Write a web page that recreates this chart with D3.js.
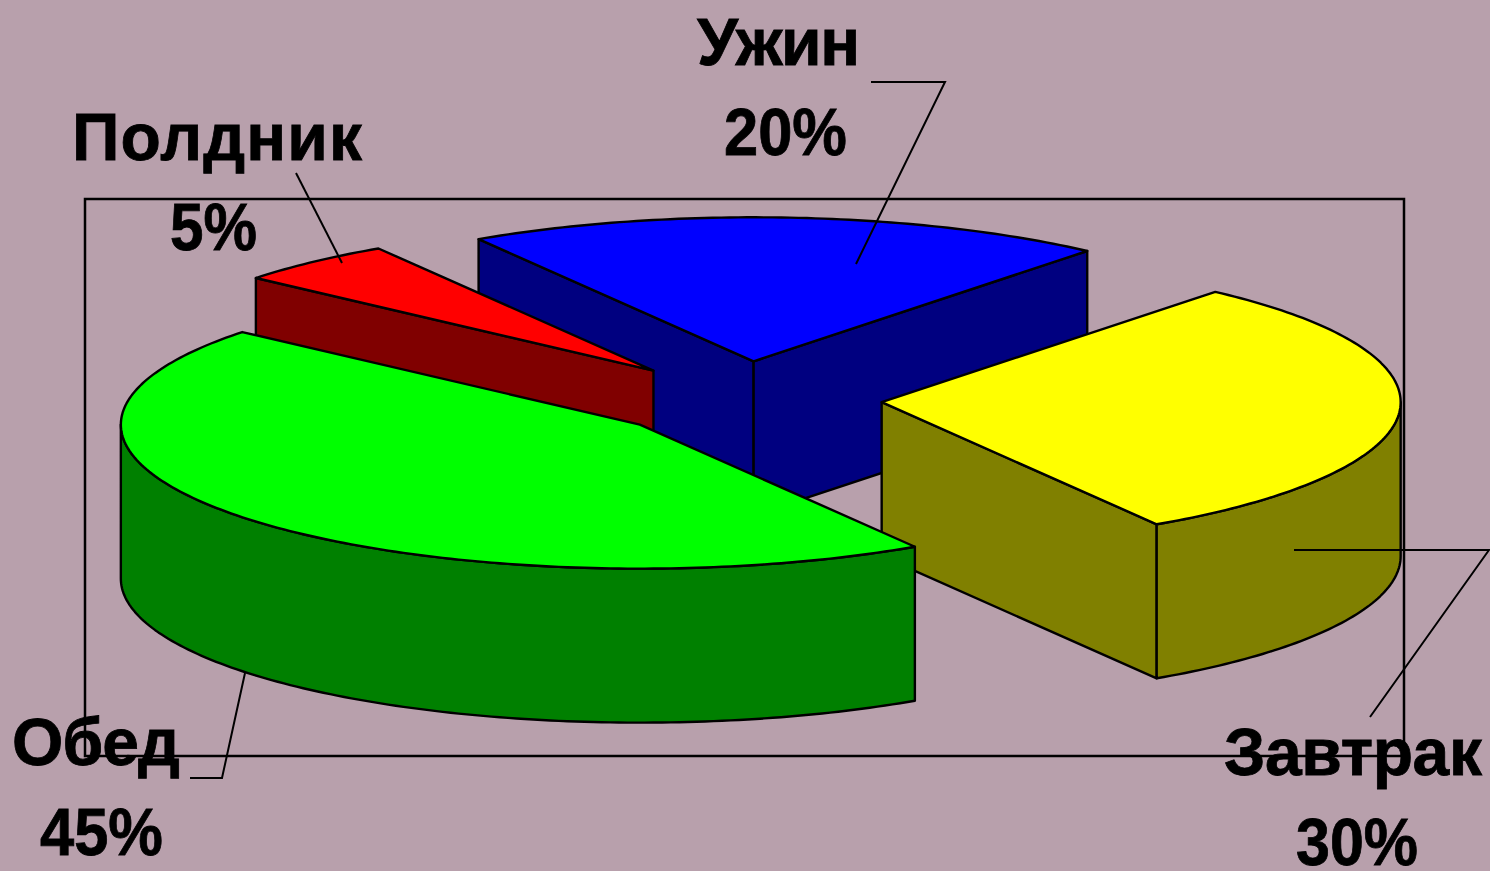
<!doctype html>
<html>
<head>
    <meta charset="UTF-8">
    <title>Режим питания</title>
    <script src="https://d3js.org/d3.v7.min.js"></script>
    <style>
        body { margin: 0; background: #b8a0ac; }
        svg { display: block; }
        text { font-family: "Liberation Sans", Arial, sans-serif; font-weight: bold; fill: #000; stroke: #000; stroke-width: 0.8px; }
    </style>
</head>
<body>
    <svg width="1490" height="871" id="chart"></svg>
<script>
var categories = ["Завтрак", "Обед", "Полдник", "Ужин"];
var shares = [30, 45, 5, 20];
var topColors = ["#ffff00", "#00ff00", "#ff0000", "#0000ff"];
var sideColors = ["#808000", "#008000", "#800000", "#000080"];

// label layout: name left x, name width, name baseline, percent left x, percent width, percent baseline
var labelPos = [
    [1224, 258, 775, 1296, 122, 865],
    [12, 168, 765, 40, 123, 855],
    [72, 290, 160, 170, 87, 250],
    [697, 163, 65, 724, 123, 155]
];
var leaders = [
    [[1294, 550], [1489, 550], [1370, 717]],
    [[190, 778], [222, 778], [245, 673]],
    [[296, 173], [342, 263]],
    [[871, 82], [945, 82], [856, 264]]
];

var cx = 744, cy = 399.5, rx = 519, ry = 144, depth = 154, explode = 138;
var x = d3.scaleLinear().domain([-1, 1]).range([-rx, rx]);
var y = d3.scaleLinear().domain([-1, 1]).range([-ry, ry]);

var svg = d3.select("#chart");
var line = d3.line();

// plot area frame behind the pie
svg.append("rect").attr("x", 85).attr("y", 199).attr("width", 1319).attr("height", 557)
    .attr("fill", "none").attr("stroke", "#000").attr("stroke-width", 2.5);

var pie = d3.pie().sort(null).startAngle(40 * Math.PI / 180).endAngle(400 * Math.PI / 180);
var slices = pie(shares).map(function(d, i) {
    var t0 = d.startAngle - Math.PI / 2, t1 = d.endAngle - Math.PI / 2, mid = (t0 + t1) / 2;
    return { i: i, t0: t0, t1: t1, ax: cx + x(Math.cos(mid)) * explode / rx, ay: cy + y(Math.sin(mid)) * explode / rx };
});

function rim(s, t, dz) {
    return [s.ax + x(Math.cos(t)), s.ay + y(Math.sin(t)) + (dz || 0)];
}
function arcPoints(s, a, b, dz) {
    var n = Math.max(2, Math.ceil(Math.abs(b - a) * 60));
    return d3.range(n + 1).map(function(k) { return rim(s, a + (b - a) * k / n, dz); });
}
function wall(points, color) {
    svg.append("path").attr("d", line(points) + "Z").attr("fill", color)
        .attr("stroke", "#000").attr("stroke-width", 2.4).attr("stroke-linejoin", "round");
}

// back slices first
[3, 2, 0, 1].forEach(function(idx) {
    var s = slices[idx], color = sideColors[idx];
    var apex = [s.ax, s.ay], apexLow = [s.ax, s.ay + depth];
    // radial walls, only those facing the viewer
    if (-Math.cos(s.t0) > 0) wall([apex, rim(s, s.t0), rim(s, s.t0, depth), apexLow], color);
    if (Math.cos(s.t1) > 0) wall([apex, rim(s, s.t1), rim(s, s.t1, depth), apexLow], color);
    // outer wall, front half of the ellipse
    var from = Math.max(s.t0, 0), to = Math.min(s.t1, Math.PI);
    if (to > from) wall(arcPoints(s, from, to, 0).concat(arcPoints(s, to, from, depth)), color);
    // top
    wall([apex].concat(arcPoints(s, s.t0, s.t1, 0)), topColors[idx]);
});

// leader lines
leaders.forEach(function(pts) {
    svg.append("path").attr("d", line(pts)).attr("fill", "none").attr("stroke", "#000").attr("stroke-width", 2);
});

categories.forEach(function(name, i) {
    var p = labelPos[i];
    svg.append("text").attr("x", p[0]).attr("y", p[2]).attr("font-size", 66)
        .attr("textLength", p[1]).attr("lengthAdjust", "spacing").text(name);
    svg.append("text").attr("x", p[3]).attr("y", p[5]).attr("font-size", 66)
        .attr("textLength", p[4]).attr("lengthAdjust", "spacingAndGlyphs").text(shares[i] + "%");
});
</script>
</body>
</html>
